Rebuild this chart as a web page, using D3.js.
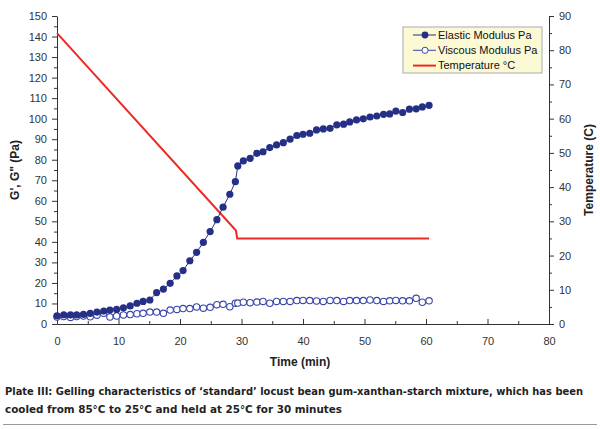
<!DOCTYPE html>
<html>
<head>
<meta charset="utf-8">
<script src="https://cdn.jsdelivr.net/npm/d3@7"></script>
<style>
  html, body { margin: 0; padding: 0; background: #fff; }
  svg { display: block; }
</style>
</head>
<body>
<svg id="chart" width="600" height="429"></svg>
<script>
// ---- data ----
const time = [0.0, 1.1, 2.2, 3.2, 4.3, 5.4, 6.5, 7.6, 8.6, 9.7, 10.8, 11.9, 13.0, 14.0, 15.1, 16.2, 17.3, 18.4, 19.5, 20.5,
  21.6, 22.7, 23.8, 24.9, 26.0, 27.0, 28.1, 29.0, 29.4, 30.3, 31.4, 32.5, 33.5, 34.6, 35.7, 36.8, 37.9, 39.0, 40.0, 41.1,
  42.2, 43.3, 44.4, 45.5, 46.6, 47.6, 48.7, 49.8, 50.9, 52.0, 53.1, 54.1, 55.1, 56.2, 57.3, 58.4, 59.4, 60.5];
const elastic = [4.0, 4.5, 4.4, 4.4, 4.7, 5.2, 5.8, 6.3, 6.8, 7.1, 7.9, 8.8, 10.1, 11.0, 11.7, 15.3, 17.0, 19.8, 23.4, 26.0,
  30.8, 34.9, 39.8, 45.0, 50.8, 56.9, 63.2, 69.3, 77.0, 79.4, 80.7, 83.1, 83.9, 85.9, 87.2, 88.3, 90.0, 91.8, 92.4, 92.9,
  94.5, 95.0, 95.3, 97.0, 97.3, 98.4, 99.4, 99.9, 100.8, 101.3, 102.1, 102.3, 103.7, 103.0, 104.6, 104.8, 105.7, 106.5];
const viscous = [3.4, 3.6, 3.2, 3.6, 3.9, 3.5, 4.3, 5.2, 3.4, 3.9, 4.4, 4.6, 5.0, 5.2, 5.8, 5.8, 5.2, 6.8, 7.1, 7.5,
  7.5, 8.3, 7.7, 8.1, 9.4, 9.6, 8.4, 10.1, 10.2, 10.6, 10.4, 10.7, 11.0, 10.1, 11.0, 11.0, 11.0, 11.4, 11.5, 11.4,
  11.2, 11.0, 11.5, 11.4, 11.0, 11.4, 11.4, 11.4, 11.7, 11.4, 11.0, 11.3, 11.5, 11.3, 11.3, 12.5, 10.6, 11.3];
const tempTime = [0, 29.1, 29.3, 60.5];
const tempValue = [85, 27.3, 25, 25];

const xTicks = [0, 10, 20, 30, 40, 50, 60, 70, 80];
const yLeftTicks = [0, 10, 20, 30, 40, 50, 60, 70, 80, 90, 100, 110, 120, 130, 140, 150];
const yRightTicks = [0, 10, 20, 30, 40, 50, 60, 70, 80, 90];
const legendLabels = ["Elastic Modulus Pa", "Viscous Modulus Pa", "Temperature \u00B0C"];
const xTitle = "Time (min)";
const yLeftTitle = "G', G\" (Pa)";
const yRightTitle = "Temperature (C)";
const caption = ["Plate III: Gelling characteristics of \u2018standard\u2019 locust bean gum-xanthan-starch mixture, which has been",
  "cooled from 85\u00B0C to 25\u00B0C and held at 25\u00B0C for 30 minutes"];

// ---- layout ----
const svg = d3.select("#chart");
const FONT = "'Liberation Sans', Arial, sans-serif";
const navy = "#252f86";
const openBlue = "#3b47a8";
const red = "#ee2a24";
const axisColor = "#333";

const x = d3.scaleLinear().domain([0, 80]).range([57, 549]);
const yL = d3.scaleLinear().domain([0, 150]).range([324, 16]);
const yR = d3.scaleLinear().domain([0, 90]).range([324, 16]);

function styleAxis(g) {
  g.selectAll("path.domain").attr("stroke", axisColor).attr("stroke-width", 1);
  g.selectAll(".tick line").attr("stroke", axisColor);
  g.selectAll(".tick text").attr("fill", "#333").style("font-family", FONT).style("font-size", "11px");
}

// minor ticks
const minorLeft = d3.range(5, 150, 10);
const minorRight = d3.range(5, 90, 10);
const minorX = d3.range(5, 80, 10);

svg.append("g").attr("transform", "translate(57,0)")
  .call(d3.axisLeft(yL).tickValues(minorLeft).tickSize(3).tickFormat(""))
  .call(g => g.select(".domain").remove())
  .call(styleAxis);
svg.append("g").attr("transform", "translate(549,0)")
  .call(d3.axisRight(yR).tickValues(minorRight).tickSize(3).tickFormat(""))
  .call(g => g.select(".domain").remove())
  .call(styleAxis);
svg.append("g").attr("transform", "translate(0,324)")
  .call(d3.axisBottom(x).tickValues(minorX).tickSize(-3).tickFormat(""))
  .call(g => g.select(".domain").remove())
  .call(styleAxis);

// major axes
svg.append("g").attr("transform", "translate(57,0)")
  .call(d3.axisLeft(yL).tickValues(yLeftTicks).tickSize(5).tickSizeOuter(0).tickPadding(5).tickFormat(d3.format("d")))
  .call(styleAxis);
svg.append("g").attr("transform", "translate(549,0)")
  .call(d3.axisRight(yR).tickValues(yRightTicks).tickSize(5).tickSizeOuter(0).tickPadding(5).tickFormat(d3.format("d")))
  .call(styleAxis);
svg.append("g").attr("transform", "translate(0,324)")
  .call(d3.axisBottom(x).tickValues(xTicks).tickSize(-5).tickSizeOuter(0).tickPadding(13).tickFormat(d3.format("d")))
  .call(styleAxis);

// axis titles
svg.append("text").attr("x", x(40) - 3).attr("y", 366).attr("text-anchor", "middle")
  .style("font-family", FONT).style("font-size", "12px").style("font-weight", "bold").attr("fill", "#222")
  .text(xTitle);
svg.append("text").attr("transform", "translate(19,170) rotate(-90)").attr("text-anchor", "middle")
  .style("font-family", FONT).style("font-size", "12px").style("font-weight", "bold").attr("fill", "#222")
  .text(yLeftTitle);
svg.append("text").attr("transform", "translate(593,170) rotate(-90)").attr("text-anchor", "middle")
  .style("font-family", FONT).style("font-size", "12px").style("font-weight", "bold").attr("fill", "#222")
  .text(yRightTitle);

// ---- series ----
const elasticData = time.map((t, i) => ({ t, v: elastic[i] }));
const viscousData = time.map((t, i) => ({ t, v: viscous[i] }));
const tempData = tempTime.map((t, i) => ({ t, v: tempValue[i] }));

const lineL = d3.line().x(d => x(d.t)).y(d => yL(d.v));
const lineR = d3.line().x(d => x(d.t)).y(d => yR(d.v));

svg.append("path").datum(tempData).attr("d", lineR)
  .attr("fill", "none").attr("stroke", red).attr("stroke-width", 2);

svg.append("path").datum(viscousData).attr("d", lineL)
  .attr("fill", "none").attr("stroke", openBlue).attr("stroke-width", 0.8);
svg.append("g").selectAll("circle").data(viscousData).join("circle")
  .attr("cx", d => x(d.t)).attr("cy", d => yL(d.v)).attr("r", 3.2)
  .attr("fill", "#fff").attr("stroke", openBlue).attr("stroke-width", 1.1);

svg.append("path").datum(elasticData).attr("d", lineL)
  .attr("fill", "none").attr("stroke", navy).attr("stroke-width", 1);
svg.append("g").selectAll("circle").data(elasticData).join("circle")
  .attr("cx", d => x(d.t)).attr("cy", d => yL(d.v)).attr("r", 3.6)
  .attr("fill", navy);

// ---- legend ----
const lg = svg.append("g").attr("transform", "translate(403,27)");
lg.append("rect").attr("x", 0).attr("y", 0).attr("width", 139).attr("height", 46)
  .attr("fill", "#fcf9d5").attr("stroke", "#aaa").attr("stroke-width", 1);
const rows = [
  { label: legendLabels[0], color: navy, marker: "filled" },
  { label: legendLabels[1], color: openBlue, marker: "open" },
  { label: legendLabels[2], color: red, marker: "none" }
];
rows.forEach((r, i) => {
  const yy = 8 + i * 15.3;
  lg.append("line").attr("x1", 10).attr("x2", 33).attr("y1", yy).attr("y2", yy)
    .attr("stroke", r.color).attr("stroke-width", r.marker === "none" ? 2 : 1);
  if (r.marker === "filled") {
    lg.append("circle").attr("cx", 22).attr("cy", yy).attr("r", 3.4).attr("fill", r.color);
  } else if (r.marker === "open") {
    lg.append("circle").attr("cx", 22).attr("cy", yy).attr("r", 3.1).attr("fill", "#fff")
      .attr("stroke", r.color).attr("stroke-width", 1);
  }
  lg.append("text").attr("x", 35).attr("y", yy).attr("dy", "0.35em")
    .style("font-family", FONT).style("font-size", "11px").attr("fill", "#111")
    .text(r.label);
});

// ---- caption ----
const capFont = "'DejaVu Sans Condensed', 'Liberation Sans', sans-serif";
svg.append("text").attr("x", 5).attr("y", 395)
  .attr("textLength", 578).attr("lengthAdjust", "spacingAndGlyphs")
  .style("font-family", capFont).style("font-size", "11px").style("font-weight", "bold").attr("fill", "#222")
  .text(caption[0]);
svg.append("text").attr("x", 5).attr("y", 413)
  .attr("textLength", 337).attr("lengthAdjust", "spacingAndGlyphs")
  .style("font-family", capFont).style("font-size", "11px").style("font-weight", "bold").attr("fill", "#222")
  .text(caption[1]);
svg.append("line").attr("x1", 3).attr("x2", 597).attr("y1", 424.5).attr("y2", 424.5)
  .attr("stroke", "#999").attr("stroke-width", 1);
</script>
</body>
</html>
